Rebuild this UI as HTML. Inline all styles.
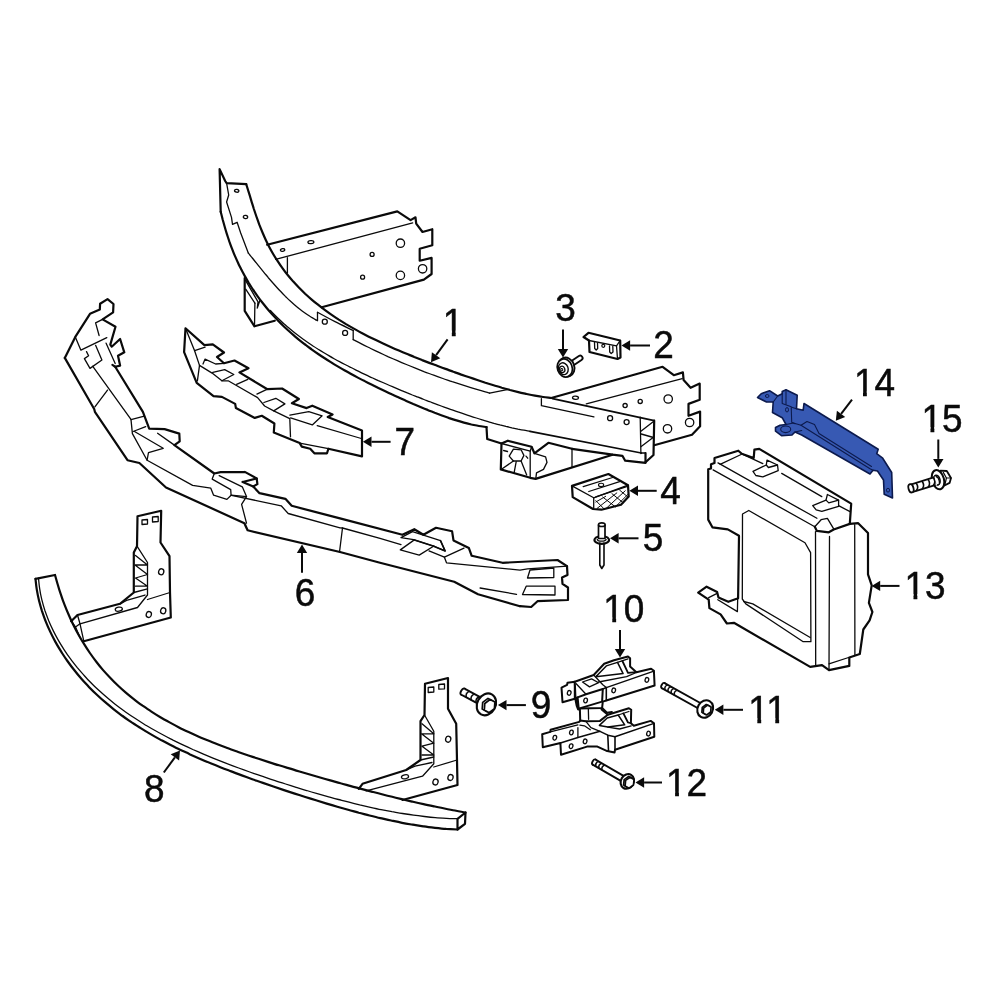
<!DOCTYPE html>
<html lang="en"><head><meta charset="utf-8"><title>Front bumper reinforcement diagram</title>
<style>
html,body{margin:0;padding:0;background:#fff}
body{width:1000px;height:1000px;overflow:hidden}
svg{display:block;will-change:transform}
svg text{font-family:"Liberation Sans",sans-serif;fill:#0a0a0a;stroke:#0a0a0a;stroke-width:0.5px;font-kerning:none;font-variant-ligatures:none}
</style></head><body>
<svg width="1000" height="1000" viewBox="0 0 1000 1000">
<rect width="1000" height="1000" fill="#fff"/>
<path d="M35.5,578.8 C35.7,580.6 36.2,586.0 36.8,589.6 C37.4,593.2 38.1,596.8 39.0,600.4 C39.9,603.9 40.9,607.5 42.0,611.1 C43.2,614.6 44.4,618.1 45.8,621.6 C47.2,625.1 48.7,628.5 50.3,631.9 C51.9,635.3 53.6,638.6 55.4,641.9 C57.2,645.2 59.2,648.5 61.2,651.7 C63.2,654.8 65.2,658.0 67.4,661.0 C69.6,664.1 71.8,667.1 74.2,670.0 C76.5,673.0 78.9,675.9 81.4,678.7 C83.8,681.5 86.4,684.2 88.9,686.9 C91.5,689.6 94.2,692.2 96.9,694.7 C99.6,697.3 102.4,699.8 105.2,702.2 C108.0,704.6 110.9,707.0 113.8,709.3 C116.7,711.6 119.7,713.8 122.6,716.0 C125.6,718.2 128.7,720.3 131.7,722.4 C134.8,724.4 137.9,726.4 141.1,728.4 C144.2,730.4 147.4,732.3 150.6,734.1 C153.8,736.0 157.0,737.8 160.3,739.6 C163.5,741.3 166.8,743.1 170.1,744.7 C173.4,746.4 176.7,748.1 180.0,749.7 C183.4,751.3 186.8,752.8 190.1,754.4 C193.5,755.9 196.9,757.4 200.3,758.9 C203.7,760.4 207.1,761.8 210.6,763.2 C214.0,764.6 217.5,766.0 220.9,767.4 C224.4,768.8 227.9,770.1 231.3,771.4 C234.8,772.8 238.3,774.1 241.8,775.4 C245.3,776.7 248.8,777.9 252.3,779.2 C255.8,780.4 259.3,781.7 262.9,782.9 C266.4,784.1 269.9,785.3 273.4,786.5 C277.0,787.7 280.5,788.9 284.0,790.1 C287.6,791.3 291.1,792.4 294.7,793.6 C298.2,794.7 301.8,795.9 305.3,797.0 C308.9,798.1 312.4,799.2 316.0,800.3 C319.5,801.4 323.1,802.5 326.7,803.6 C330.2,804.6 333.8,805.7 337.3,806.7 C340.9,807.7 344.5,808.8 348.1,809.8 C351.6,810.8 355.2,811.7 358.8,812.7 C362.4,813.6 365.9,814.6 369.5,815.5 C373.1,816.4 376.7,817.3 380.3,818.1 C383.9,818.9 387.5,819.8 391.1,820.5 C394.8,821.3 398.4,822.1 402.0,822.8 C405.6,823.5 409.3,824.1 412.9,824.7 C416.6,825.4 420.3,825.9 423.9,826.4 C427.6,827.0 431.3,827.4 435.0,827.8 C438.7,828.2 442.4,828.6 446.2,828.9 C449.9,829.1 455.6,829.4 457.5,829.5" fill="none" stroke="#0a0a0a" stroke-width="2.20" stroke-linejoin="round" stroke-linecap="round"/>
<path d="M55.0,575.0 C55.5,576.6 56.8,581.5 57.8,584.8 C58.7,588.1 59.8,591.5 61.0,594.8 C62.1,598.2 63.3,601.6 64.6,604.9 C65.9,608.3 67.3,611.6 68.8,615.0 C70.2,618.3 71.7,621.6 73.4,624.9 C75.0,628.1 76.7,631.4 78.4,634.5 C80.2,637.7 82.0,640.9 84.0,643.9 C85.9,647.0 87.9,650.1 89.9,653.0 C92.0,656.0 94.1,658.9 96.3,661.7 C98.5,664.6 100.8,667.4 103.1,670.1 C105.5,672.8 107.9,675.4 110.4,678.0 C112.8,680.6 115.3,683.1 117.9,685.5 C120.5,688.0 123.1,690.3 125.8,692.6 C128.5,694.9 131.3,697.2 134.1,699.3 C136.8,701.5 139.7,703.6 142.6,705.7 C145.5,707.7 148.4,709.7 151.4,711.6 C154.3,713.5 157.3,715.4 160.4,717.2 C163.4,719.0 166.5,720.7 169.6,722.4 C172.7,724.1 175.9,725.8 179.0,727.4 C182.2,729.0 185.4,730.5 188.6,732.0 C191.8,733.5 195.1,735.0 198.3,736.4 C201.6,737.9 204.9,739.2 208.2,740.6 C211.5,742.0 214.8,743.3 218.1,744.6 C221.4,745.9 224.8,747.1 228.1,748.3 C231.5,749.6 234.9,750.8 238.2,752.0 C241.6,753.2 245.0,754.3 248.4,755.5 C251.8,756.6 255.2,757.7 258.6,758.8 C262.0,759.9 265.4,761.0 268.8,762.1 C272.2,763.2 275.6,764.3 279.0,765.3 C282.4,766.4 285.9,767.4 289.3,768.4 C292.7,769.5 296.1,770.5 299.5,771.5 C303.0,772.5 306.4,773.5 309.8,774.5 C313.2,775.5 316.6,776.5 320.1,777.5 C323.5,778.5 326.9,779.4 330.3,780.4 C333.8,781.4 337.2,782.3 340.6,783.3 C344.1,784.2 347.5,785.2 350.9,786.1 C354.4,787.0 357.8,788.0 361.2,788.9 C364.7,789.8 368.1,790.7 371.5,791.6 C375.0,792.5 378.4,793.4 381.9,794.2 C385.3,795.1 388.8,796.0 392.2,796.8 C395.7,797.7 399.2,798.5 402.6,799.3 C406.1,800.2 409.6,801.0 413.0,801.8 C416.5,802.6 420.0,803.3 423.5,804.1 C427.0,804.9 430.5,805.6 434.0,806.3 C437.5,807.1 441.0,807.8 444.5,808.5 C448.0,809.2 451.5,809.9 455.0,810.5 C458.5,811.2 463.7,812.2 465.5,812.5" fill="none" stroke="#0a0a0a" stroke-width="2.20" stroke-linejoin="round" stroke-linecap="round"/>
<path d="M38.5,578.2 C38.7,580.0 39.1,585.4 39.7,588.9 C40.2,592.5 40.9,596.1 41.8,599.6 C42.7,603.2 43.7,606.7 44.8,610.2 C46.0,613.6 47.3,617.1 48.6,620.5 C50.0,623.9 51.6,627.3 53.2,630.6 C54.8,633.9 56.6,637.2 58.4,640.4 C60.2,643.6 62.2,646.7 64.2,649.8 C66.2,652.9 68.3,656.0 70.5,658.9 C72.7,661.9 75.0,664.8 77.3,667.7 C79.7,670.5 82.1,673.3 84.6,676.0 C87.0,678.8 89.6,681.4 92.2,684.0 C94.8,686.6 97.5,689.1 100.2,691.6 C102.9,694.1 105.7,696.5 108.5,698.8 C111.3,701.2 114.2,703.4 117.1,705.7 C120.0,707.9 122.9,710.1 125.9,712.2 C128.9,714.3 131.9,716.3 135.0,718.3 C138.0,720.3 141.1,722.3 144.2,724.2 C147.4,726.1 150.5,728.0 153.7,729.8 C156.8,731.6 160.0,733.3 163.3,735.0 C166.5,736.8 169.7,738.4 173.0,740.1 C176.3,741.7 179.6,743.3 182.9,744.9 C186.2,746.4 189.5,748.0 192.8,749.5 C196.2,751.0 199.5,752.4 202.9,753.9 C206.2,755.3 209.6,756.7 213.0,758.1 C216.4,759.5 219.8,760.8 223.2,762.2 C226.7,763.5 230.1,764.8 233.5,766.1 C237.0,767.4 240.4,768.6 243.9,769.9 C247.3,771.1 250.8,772.4 254.2,773.6 C257.7,774.8 261.2,776.0 264.7,777.1 C268.1,778.3 271.6,779.5 275.1,780.6 C278.6,781.8 282.1,782.9 285.6,784.0 C289.1,785.1 292.6,786.2 296.1,787.3 C299.7,788.4 303.2,789.5 306.7,790.5 C310.2,791.6 313.7,792.6 317.3,793.6 C320.8,794.6 324.3,795.6 327.8,796.6 C331.4,797.6 334.9,798.6 338.5,799.5 C342.0,800.4 345.5,801.4 349.1,802.2 C352.6,803.1 356.2,804.0 359.7,804.9 C363.3,805.7 366.9,806.5 370.4,807.3 C374.0,808.1 377.6,808.9 381.1,809.6 C384.7,810.3 388.3,811.0 391.9,811.7 C395.5,812.3 399.0,813.0 402.6,813.5 C406.3,814.1 409.9,814.7 413.5,815.2 C417.1,815.7 420.7,816.1 424.4,816.5 C428.0,816.9 431.7,817.3 435.3,817.6 C439.0,817.9 442.7,818.1 446.4,818.3 C450.1,818.5 455.6,818.7 457.5,818.7" fill="none" stroke="#0a0a0a" stroke-width="1.30" stroke-linejoin="round" stroke-linecap="round"/>
<polyline points="35.5,578.8 55.0,575.0" fill="none" stroke="#0a0a0a" stroke-width="2.20" stroke-linejoin="round" stroke-linecap="round"/>
<polyline points="465.5,812.5 465.0,823.8 457.5,829.5 457.5,818.8 465.5,812.5" fill="none" stroke="#0a0a0a" stroke-width="2.20" stroke-linejoin="round" stroke-linecap="round"/>
<polyline points="71.2,621.2 77.5,615.0 120.0,603.8 133.8,592.5 133.8,552.5 137.0,546.2 137.5,516.2 161.2,510.8 160.5,542.5 169.5,556.2 170.0,592.5 170.8,617.5 83.8,641.2" fill="none" stroke="#0a0a0a" stroke-width="2.20" stroke-linejoin="round" stroke-linecap="round"/>
<polyline points="137.0,546.2 147.5,562.5 147.5,595.0 137.5,607.5 80.0,623.8 83.8,641.2" fill="none" stroke="#0a0a0a" stroke-width="1.30" stroke-linejoin="round" stroke-linecap="round"/>
<polyline points="77.5,615.0 80.0,623.8" fill="none" stroke="#0a0a0a" stroke-width="1.30" stroke-linejoin="round" stroke-linecap="round"/>
<polyline points="71.2,621.2 75.5,627.0 80.0,623.8" fill="none" stroke="#0a0a0a" stroke-width="1.30" stroke-linejoin="round" stroke-linecap="round"/>
<polyline points="75.5,627.0 80.0,637.5" fill="none" stroke="#0a0a0a" stroke-width="1.30" stroke-linejoin="round" stroke-linecap="round"/>
<polyline points="147.5,599.5 170.0,592.5" fill="none" stroke="#0a0a0a" stroke-width="1.30" stroke-linejoin="round" stroke-linecap="round"/>
<polyline points="133.8,592.5 147.5,588.8" fill="none" stroke="#0a0a0a" stroke-width="1.30" stroke-linejoin="round" stroke-linecap="round"/>
<polyline points="120.0,603.8 127.5,600.0 145.0,595.0" fill="none" stroke="#0a0a0a" stroke-width="1.30" stroke-linejoin="round" stroke-linecap="round"/>
<polyline points="135.5,555.5 147.5,565.0 135.0,565.0 147.5,574.5 135.5,578.0 147.5,586.2 135.5,586.2" fill="none" stroke="#0a0a0a" stroke-width="1.30" stroke-linejoin="round" stroke-linecap="round"/>
<polygon points="142.0,520.0 147.5,519.5 147.5,524.0 142.0,524.5" fill="none" stroke="#0a0a0a" stroke-width="1.30" stroke-linejoin="round" stroke-linecap="round"/>
<polygon points="152.5,517.0 158.2,516.5 158.2,521.5 152.5,522.0" fill="none" stroke="#0a0a0a" stroke-width="1.30" stroke-linejoin="round" stroke-linecap="round"/>
<ellipse cx="161.2" cy="571.8" rx="2.6" ry="3.0" fill="#fff" stroke="#0a0a0a" stroke-width="1.30" transform="rotate(15 161.2 571.8)"/>
<ellipse cx="148.8" cy="614.5" rx="2.6" ry="3.0" fill="#fff" stroke="#0a0a0a" stroke-width="1.30" transform="rotate(15 148.8 614.5)"/>
<ellipse cx="163.2" cy="610.8" rx="2.6" ry="3.0" fill="#fff" stroke="#0a0a0a" stroke-width="1.30" transform="rotate(15 163.2 610.8)"/>
<ellipse cx="118.8" cy="609.2" rx="3.6" ry="2.0" fill="#fff" stroke="#0a0a0a" stroke-width="1.30" transform="rotate(-10 118.8 609.2)"/>
<polyline points="358.8,788.8 362.5,783.8 406.2,770.0 420.5,760.0 420.5,721.2 424.5,715.0 425.0,683.8 448.0,678.0 448.0,708.8 456.2,723.8 457.0,760.0 457.5,785.0 402.5,800.0" fill="none" stroke="#0a0a0a" stroke-width="2.20" stroke-linejoin="round" stroke-linecap="round"/>
<polyline points="424.5,715.0 433.8,731.2 433.8,763.8 422.5,776.2 366.2,790.8" fill="none" stroke="#0a0a0a" stroke-width="1.30" stroke-linejoin="round" stroke-linecap="round"/>
<polyline points="433.8,767.0 457.0,760.0" fill="none" stroke="#0a0a0a" stroke-width="1.30" stroke-linejoin="round" stroke-linecap="round"/>
<polyline points="420.5,760.0 433.8,757.0" fill="none" stroke="#0a0a0a" stroke-width="1.30" stroke-linejoin="round" stroke-linecap="round"/>
<polyline points="406.2,770.0 415.0,766.2 432.0,762.5" fill="none" stroke="#0a0a0a" stroke-width="1.30" stroke-linejoin="round" stroke-linecap="round"/>
<polyline points="422.0,723.8 433.8,733.8 421.5,733.8 433.8,743.2 422.0,746.2 433.8,755.0 422.0,755.0" fill="none" stroke="#0a0a0a" stroke-width="1.30" stroke-linejoin="round" stroke-linecap="round"/>
<polygon points="428.2,687.5 433.8,687.0 433.8,692.0 428.2,692.5" fill="none" stroke="#0a0a0a" stroke-width="1.30" stroke-linejoin="round" stroke-linecap="round"/>
<polygon points="438.8,684.5 444.5,684.0 444.5,688.8 438.8,689.2" fill="none" stroke="#0a0a0a" stroke-width="1.30" stroke-linejoin="round" stroke-linecap="round"/>
<ellipse cx="448.2" cy="739.2" rx="2.6" ry="3.0" fill="#fff" stroke="#0a0a0a" stroke-width="1.30" transform="rotate(15 448.2 739.2)"/>
<ellipse cx="435.5" cy="782.0" rx="2.6" ry="3.0" fill="#fff" stroke="#0a0a0a" stroke-width="1.30" transform="rotate(15 435.5 782.0)"/>
<ellipse cx="450.5" cy="777.5" rx="2.6" ry="3.0" fill="#fff" stroke="#0a0a0a" stroke-width="1.30" transform="rotate(15 450.5 777.5)"/>
<ellipse cx="405.0" cy="776.8" rx="3.6" ry="2.0" fill="#fff" stroke="#0a0a0a" stroke-width="1.30" transform="rotate(-10 405.0 776.8)"/>
<clipPath id="c1"><rect x="437.4" y="297.2" width="31.4" height="33.4"/><rect x="451.79" y="329.7" width="3.97" height="8"/></clipPath>
<text x="442.4" y="335.7" font-size="38.5" clip-path="url(#c1)" transform="translate(453.10 0) scale(0.96 1) translate(-453.10 0)">1</text>
<line x1="447.6" y1="339.4" x2="436.1" y2="355.2" stroke="#0a0a0a" stroke-width="2.00"/>
<polygon points="431.0,362.2 431.9,352.2 440.3,358.3" fill="#0a0a0a"/>
<text x="652.8" y="358.0" font-size="38.5" transform="translate(663.50 0) scale(0.96 1) translate(-663.50 0)">2</text>
<line x1="650.0" y1="345.5" x2="630.1" y2="345.5" stroke="#0a0a0a" stroke-width="2.00"/>
<polygon points="621.5,345.5 630.1,340.3 630.1,350.7" fill="#0a0a0a"/>
<text x="554.8" y="321.0" font-size="38.5" transform="translate(565.50 0) scale(0.96 1) translate(-565.50 0)">3</text>
<line x1="563.0" y1="329.5" x2="563.0" y2="348.9" stroke="#0a0a0a" stroke-width="2.00"/>
<polygon points="563.0,357.5 557.8,348.9 568.2,348.9" fill="#0a0a0a"/>
<text x="659.8" y="503.6" font-size="38.5" transform="translate(670.50 0) scale(0.96 1) translate(-670.50 0)">4</text>
<line x1="656.7" y1="490.8" x2="638.0" y2="490.8" stroke="#0a0a0a" stroke-width="2.00"/>
<polygon points="629.4,490.8 638.0,485.6 638.0,496.0" fill="#0a0a0a"/>
<text x="642.3" y="551.5" font-size="38.5" transform="translate(653.00 0) scale(0.96 1) translate(-653.00 0)">5</text>
<line x1="638.5" y1="538.3" x2="618.6" y2="538.3" stroke="#0a0a0a" stroke-width="2.00"/>
<polygon points="610.0,538.3 618.6,533.1 618.6,543.5" fill="#0a0a0a"/>
<text x="294.3" y="605.9" font-size="38.5" transform="translate(305.00 0) scale(0.96 1) translate(-305.00 0)">6</text>
<line x1="302.0" y1="572.8" x2="302.0" y2="553.0" stroke="#0a0a0a" stroke-width="2.00"/>
<polygon points="302.0,544.4 307.2,553.0 296.8,553.0" fill="#0a0a0a"/>
<text x="394.2" y="454.9" font-size="38.5" transform="translate(404.90 0) scale(0.96 1) translate(-404.90 0)">7</text>
<line x1="390.6" y1="441.8" x2="371.5" y2="441.8" stroke="#0a0a0a" stroke-width="2.00"/>
<polygon points="362.9,441.8 371.5,436.6 371.5,447.0" fill="#0a0a0a"/>
<text x="143.7" y="802.0" font-size="38.5" transform="translate(154.40 0) scale(0.96 1) translate(-154.40 0)">8</text>
<line x1="163.8" y1="772.5" x2="174.9" y2="757.4" stroke="#0a0a0a" stroke-width="2.00"/>
<polygon points="180.0,750.5 179.1,760.5 170.7,754.3" fill="#0a0a0a"/>
<text x="530.3" y="717.8" font-size="38.5" transform="translate(541.00 0) scale(0.96 1) translate(-541.00 0)">9</text>
<line x1="525.9" y1="705.1" x2="506.5" y2="705.1" stroke="#0a0a0a" stroke-width="2.00"/>
<polygon points="497.9,705.1 506.5,699.9 506.5,710.3" fill="#0a0a0a"/>
<clipPath id="c2"><rect x="597.4" y="583.9" width="52.7" height="33.4"/><rect x="611.83" y="616.4" width="3.97" height="8"/><rect x="625.25" y="616.4" width="21.41" height="12"/></clipPath>
<text x="602.4" y="622.4" font-size="38.5" letter-spacing="-0.1" clip-path="url(#c2)" transform="translate(623.80 0) scale(0.96 1) translate(-623.80 0)">10</text>
<line x1="620.0" y1="630.0" x2="620.0" y2="649.0" stroke="#0a0a0a" stroke-width="2.00"/>
<polygon points="620.0,657.6 614.8,649.0 625.2,649.0" fill="#0a0a0a"/>
<clipPath id="c3"><rect x="742.5" y="684.5" width="50.1" height="33.4"/><rect x="756.93" y="717.0" width="3.97" height="8"/><rect x="775.64" y="717.0" width="3.97" height="8"/></clipPath>
<text x="747.5" y="723.0" font-size="38.5" letter-spacing="-2.7" clip-path="url(#c3)" transform="translate(767.60 0) scale(0.96 1) translate(-767.60 0)">11</text>
<line x1="743.0" y1="709.8" x2="723.4" y2="709.8" stroke="#0a0a0a" stroke-width="2.00"/>
<polygon points="714.8,709.8 723.4,704.6 723.4,715.0" fill="#0a0a0a"/>
<clipPath id="c4"><rect x="660.2" y="757.5" width="52.7" height="33.4"/><rect x="674.63" y="790.0" width="3.97" height="8"/><rect x="688.05" y="790.0" width="21.41" height="12"/></clipPath>
<text x="665.2" y="796.0" font-size="38.5" letter-spacing="-0.1" clip-path="url(#c4)" transform="translate(686.60 0) scale(0.96 1) translate(-686.60 0)">12</text>
<line x1="662.0" y1="782.5" x2="644.1" y2="782.5" stroke="#0a0a0a" stroke-width="2.00"/>
<polygon points="635.5,782.5 644.1,777.3 644.1,787.7" fill="#0a0a0a"/>
<clipPath id="c5"><rect x="898.6" y="560.5" width="52.7" height="33.4"/><rect x="913.03" y="593.0" width="3.97" height="8"/><rect x="926.45" y="593.0" width="21.41" height="12"/></clipPath>
<text x="903.6" y="599.0" font-size="38.5" letter-spacing="-0.1" clip-path="url(#c5)" transform="translate(925.00 0) scale(0.96 1) translate(-925.00 0)">13</text>
<line x1="899.5" y1="585.9" x2="880.2" y2="585.9" stroke="#0a0a0a" stroke-width="2.00"/>
<polygon points="871.6,585.9 880.2,580.7 880.2,591.1" fill="#0a0a0a"/>
<clipPath id="c6"><rect x="848.1" y="357.5" width="52.7" height="33.4"/><rect x="862.53" y="390.0" width="3.97" height="8"/><rect x="875.95" y="390.0" width="21.41" height="12"/></clipPath>
<text x="853.1" y="396.0" font-size="38.5" letter-spacing="-0.1" clip-path="url(#c6)" transform="translate(874.50 0) scale(0.96 1) translate(-874.50 0)">14</text>
<line x1="852.0" y1="399.7" x2="841.1" y2="413.9" stroke="#0a0a0a" stroke-width="2.00"/>
<polygon points="835.8,420.7 836.9,410.7 845.2,417.1" fill="#0a0a0a"/>
<clipPath id="c7"><rect x="915.6" y="393.5" width="52.7" height="33.4"/><rect x="930.03" y="426.0" width="3.97" height="8"/><rect x="943.45" y="426.0" width="21.41" height="12"/></clipPath>
<text x="920.6" y="432.0" font-size="38.5" letter-spacing="-0.1" clip-path="url(#c7)" transform="translate(942.00 0) scale(0.96 1) translate(-942.00 0)">15</text>
<line x1="938.3" y1="439.5" x2="938.3" y2="458.9" stroke="#0a0a0a" stroke-width="2.00"/>
<polygon points="938.3,467.5 933.1,458.9 943.5,458.9" fill="#0a0a0a"/>
<polyline points="64.8,357.9 75.3,336.9 90.0,313.8 99.8,309.6 100.1,303.7 107.5,299.1 113.5,304.0 113.1,312.4 102.6,319.4 115.5,326.7 110.3,344.6 111.7,346.7 120.1,339.0 124.3,352.3 118.0,355.8 120.1,365.6 115.2,366.7 142.9,411.9 149.2,428.7 164.6,429.1 179.3,433.6 179.7,441.3 174.4,445.1 214.3,473.5 220.6,472.1 244.4,472.1 244.8,471.9 256.7,478.5 257.4,484.1 253.2,486.5 259.5,493.2 285.4,498.8 291.7,505.8 340.0,518.4 402.4,534.8 414.3,529.2 423.4,534.8 436.0,527.8 452.1,531.3 453.5,540.4 468.9,548.1 471.7,555.8 502.5,562.8 557.5,560.0 567.0,566.2 567.5,575.0 562.0,577.5 562.5,583.8 568.0,587.5 568.0,600.0 537.5,601.2 531.2,607.0 520.0,606.2" fill="none" stroke="#0a0a0a" stroke-width="2.20" stroke-linejoin="round" stroke-linecap="round"/>
<polyline points="64.8,357.9 94.2,409.0 94.9,411.8 127.5,460.2 139.4,463.0 166.0,487.5 244.4,523.2 246.5,528.1 244.8,524.0 247.6,530.3 340.0,552.0 380.0,562.8 454.2,581.7 478.0,594.3 520.0,606.2 520.0,606.2" fill="none" stroke="#0a0a0a" stroke-width="2.20" stroke-linejoin="round" stroke-linecap="round"/>
<polyline points="102.6,319.4 95.6,322.9 99.1,335.5" fill="none" stroke="#0a0a0a" stroke-width="1.30" stroke-linejoin="round" stroke-linecap="round"/>
<polyline points="115.2,366.7 112.4,364.9" fill="none" stroke="#0a0a0a" stroke-width="2.20" stroke-linejoin="round" stroke-linecap="round"/>
<polyline points="75.3,336.9 80.9,350.2 106.8,337.6" fill="none" stroke="#0a0a0a" stroke-width="1.30" stroke-linejoin="round" stroke-linecap="round"/>
<polyline points="95.6,345.3 101.9,360.0 90.0,368.4 84.4,358.6 88.6,355.8 86.5,351.6" fill="none" stroke="#0a0a0a" stroke-width="1.30" stroke-linejoin="round" stroke-linecap="round"/>
<polyline points="106.1,343.2 115.2,363.5" fill="none" stroke="#0a0a0a" stroke-width="1.30" stroke-linejoin="round" stroke-linecap="round"/>
<polyline points="92.8,366.3 130.6,418.8 131.0,419.6 132.4,433.6 147.1,460.2 192.6,485.4 210.8,488.2 213.6,495.2 226.9,499.4 231.1,495.2 230.7,489.6 212.2,479.1 214.3,473.5" fill="none" stroke="#0a0a0a" stroke-width="1.30" stroke-linejoin="round" stroke-linecap="round"/>
<polyline points="94.9,406.9 107.5,390.1" fill="none" stroke="#0a0a0a" stroke-width="1.30" stroke-linejoin="round" stroke-linecap="round"/>
<polyline points="131.0,419.6 144.3,416.1" fill="none" stroke="#0a0a0a" stroke-width="1.30" stroke-linejoin="round" stroke-linecap="round"/>
<polyline points="133.1,431.5 145.7,426.6" fill="none" stroke="#0a0a0a" stroke-width="1.30" stroke-linejoin="round" stroke-linecap="round"/>
<polyline points="134.5,431.5 163.2,448.3 148.5,452.5 147.1,460.2" fill="none" stroke="#0a0a0a" stroke-width="1.30" stroke-linejoin="round" stroke-linecap="round"/>
<polyline points="157.6,433.3 174.4,445.1" fill="none" stroke="#0a0a0a" stroke-width="1.30" stroke-linejoin="round" stroke-linecap="round"/>
<polyline points="219.2,475.6 242.3,486.8 246.5,496.6 241.6,504.3 246.5,523.2" fill="none" stroke="#0a0a0a" stroke-width="1.30" stroke-linejoin="round" stroke-linecap="round"/>
<polyline points="242.7,482.0 256.7,478.5" fill="none" stroke="#0a0a0a" stroke-width="2.20" stroke-linejoin="round" stroke-linecap="round"/>
<polyline points="242.7,482.0 253.2,486.5" fill="none" stroke="#0a0a0a" stroke-width="2.20" stroke-linejoin="round" stroke-linecap="round"/>
<polyline points="231.5,495.3 281.2,505.8 288.2,513.5 340.0,527.9 342.5,528.0 380.0,538.3 401.0,544.6" fill="none" stroke="#0a0a0a" stroke-width="1.30" stroke-linejoin="round" stroke-linecap="round"/>
<polyline points="231.1,495.2 246.5,496.6" fill="none" stroke="#0a0a0a" stroke-width="1.30" stroke-linejoin="round" stroke-linecap="round"/>
<polyline points="342.5,528.0 339.5,552.0" fill="none" stroke="#0a0a0a" stroke-width="1.30" stroke-linejoin="round" stroke-linecap="round"/>
<polygon points="401.0,537.6 412.5,531.7 440.5,540.7 445.1,550.9 433.2,546.0 413.6,539.7" fill="none" stroke="#0a0a0a" stroke-width="1.30" stroke-linejoin="round" stroke-linecap="round"/>
<polyline points="413.6,539.7 433.2,546.0 445.1,550.9 440.5,540.7" fill="none" stroke="#0a0a0a" stroke-width="1.60" stroke-linejoin="round" stroke-linecap="round"/>
<polyline points="413.6,540.4 400.3,549.9 419.2,555.1 433.9,546.0" fill="none" stroke="#0a0a0a" stroke-width="1.30" stroke-linejoin="round" stroke-linecap="round"/>
<polyline points="429.0,550.9 444.4,557.2 446.5,562.8 520.0,570.1 527.5,568.8 567.5,566.2" fill="none" stroke="#0a0a0a" stroke-width="1.30" stroke-linejoin="round" stroke-linecap="round"/>
<polyline points="444.4,557.2 464.0,548.1" fill="none" stroke="#0a0a0a" stroke-width="1.30" stroke-linejoin="round" stroke-linecap="round"/>
<polyline points="480.1,588.0 516.5,594.3" fill="none" stroke="#0a0a0a" stroke-width="1.30" stroke-linejoin="round" stroke-linecap="round"/>
<polygon points="530.0,570.0 553.8,568.0 553.8,577.5 527.5,578.0" fill="none" stroke="#0a0a0a" stroke-width="1.30" stroke-linejoin="round" stroke-linecap="round"/>
<polygon points="526.2,586.2 555.0,586.2 555.0,595.0 522.5,594.5" fill="none" stroke="#0a0a0a" stroke-width="1.30" stroke-linejoin="round" stroke-linecap="round"/>
<polyline points="267.2,244.7 397.3,211.4 410.6,220.1 415.5,217.3 416.2,223.6 422.5,232.0 432.3,229.2 432.3,245.3 419.7,248.8 419.7,260.7 431.6,257.9 431.6,274.0 423.9,279.6 321.7,307.3" fill="none" stroke="#0a0a0a" stroke-width="2.20" stroke-linejoin="round" stroke-linecap="round"/>
<polyline points="275.6,259.4 412.7,222.9" fill="none" stroke="#0a0a0a" stroke-width="1.30" stroke-linejoin="round" stroke-linecap="round"/>
<polyline points="287.4,257.7 287.4,273.1" fill="none" stroke="#0a0a0a" stroke-width="1.30" stroke-linejoin="round" stroke-linecap="round"/>
<ellipse cx="282.6" cy="250.0" rx="2.2" ry="1.3" fill="#fff" stroke="#0a0a0a" stroke-width="1.30" transform="rotate(-12 282.6 250.0)"/>
<ellipse cx="310.9" cy="242.1" rx="3.0" ry="1.5" fill="#fff" stroke="#0a0a0a" stroke-width="1.30" transform="rotate(-5 310.9 242.1)"/>
<ellipse cx="400.4" cy="243.2" rx="4.2" ry="4.2" fill="#fff" stroke="#0a0a0a" stroke-width="1.30" transform="rotate(0 400.4 243.2)"/>
<ellipse cx="400.4" cy="275.4" rx="4.2" ry="4.2" fill="#fff" stroke="#0a0a0a" stroke-width="1.30" transform="rotate(0 400.4 275.4)"/>
<ellipse cx="422.6" cy="268.8" rx="4.2" ry="4.2" fill="#fff" stroke="#0a0a0a" stroke-width="1.30" transform="rotate(0 422.6 268.8)"/>
<ellipse cx="372.1" cy="254.4" rx="2.0" ry="2.0" fill="#fff" stroke="#0a0a0a" stroke-width="1.30" transform="rotate(0 372.1 254.4)"/>
<ellipse cx="362.6" cy="277.2" rx="2.0" ry="2.0" fill="#fff" stroke="#0a0a0a" stroke-width="1.30" transform="rotate(0 362.6 277.2)"/>
<polyline points="244.7,278.0 244.7,310.9 254.5,326.3 274.8,320.7" fill="none" stroke="#0a0a0a" stroke-width="2.20" stroke-linejoin="round" stroke-linecap="round"/>
<polyline points="254.5,326.3 254.9,303.2" fill="none" stroke="#0a0a0a" stroke-width="1.30" stroke-linejoin="round" stroke-linecap="round"/>
<polyline points="245.4,280.1 258.0,301.8 257.3,308.1 260.1,299.7" fill="none" stroke="#0a0a0a" stroke-width="1.30" stroke-linejoin="round" stroke-linecap="round"/>
<polyline points="245.7,289.2 254.9,303.2" fill="none" stroke="#0a0a0a" stroke-width="1.30" stroke-linejoin="round" stroke-linecap="round"/>
<polyline points="220.7,211.8 219.6,169.1 225.2,181.0 226.6,183.1 246.2,184.1" fill="none" stroke="#0a0a0a" stroke-width="2.20" stroke-linejoin="round" stroke-linecap="round"/>
<path d="M246.2,184.1 C246.6,185.4 247.9,189.5 248.7,192.2 C249.6,194.9 250.4,197.6 251.2,200.4 C252.0,203.1 252.9,205.8 253.7,208.5 C254.6,211.1 255.5,213.8 256.4,216.5 C257.3,219.1 258.3,221.8 259.2,224.4 C260.2,227.0 261.3,229.6 262.4,232.2 C263.5,234.8 264.6,237.4 265.8,239.9 C267.0,242.4 268.2,244.9 269.5,247.4 C270.8,249.8 272.2,252.3 273.6,254.7 C275.0,257.1 276.5,259.4 278.0,261.7 C279.5,264.1 281.1,266.4 282.8,268.6 C284.4,270.9 286.1,273.1 287.9,275.2 C289.7,277.4 291.5,279.5 293.3,281.6 C295.2,283.7 297.1,285.8 299.1,287.8 C301.1,289.8 303.1,291.8 305.1,293.7 C307.2,295.6 309.3,297.5 311.4,299.3 C313.6,301.2 315.8,303.0 318.0,304.7 C320.2,306.5 322.4,308.2 324.7,309.9 C327.0,311.6 329.3,313.3 331.7,314.9 C334.0,316.5 336.4,318.0 338.8,319.6 C341.2,321.1 343.6,322.6 346.0,324.1 C348.4,325.5 350.9,327.0 353.4,328.4 C355.8,329.8 358.3,331.1 360.8,332.5 C363.3,333.8 365.8,335.1 368.3,336.4 C370.9,337.7 373.4,338.9 375.9,340.1 C378.5,341.4 381.0,342.6 383.6,343.7 C386.1,344.9 388.7,346.1 391.2,347.2 C393.8,348.4 396.3,349.5 398.9,350.6 C401.5,351.7 404.0,352.7 406.6,353.8 C409.2,354.9 411.8,355.9 414.3,357.0 C416.9,358.0 419.5,359.0 422.1,360.1 C424.7,361.1 427.3,362.1 429.9,363.1 C432.5,364.1 435.1,365.0 437.7,366.0 C440.3,367.0 442.9,368.0 445.5,368.9 C448.1,369.9 450.8,370.8 453.4,371.8 C456.0,372.7 458.7,373.6 461.3,374.6 C464.0,375.5 466.6,376.4 469.3,377.3 C472.0,378.2 474.6,379.1 477.3,380.0 C480.0,380.9 482.7,381.8 485.4,382.7 C488.1,383.5 490.9,384.4 493.6,385.2 C496.3,386.0 499.0,386.9 501.8,387.7 C504.5,388.4 507.3,389.2 510.0,390.0 C512.8,390.7 515.6,391.4 518.3,392.1 C521.1,392.8 523.9,393.4 526.6,394.0 C529.4,394.6 532.2,395.2 534.9,395.7 C537.6,396.2 540.4,396.7 543.1,397.0 C545.8,397.4 549.8,397.8 551.2,398.0" fill="none" stroke="#0a0a0a" stroke-width="2.20" stroke-linejoin="round" stroke-linecap="round"/>
<path d="M220.7,211.8 C221.0,213.0 222.0,216.8 222.6,219.3 C223.3,221.8 224.0,224.3 224.7,226.7 C225.4,229.2 226.1,231.6 226.9,234.1 C227.7,236.5 228.5,239.0 229.3,241.4 C230.2,243.8 231.0,246.2 232.0,248.6 C232.9,251.0 233.8,253.3 234.8,255.7 C235.8,258.0 236.9,260.4 238.0,262.7 C239.0,265.0 240.2,267.3 241.3,269.6 C242.5,271.9 243.7,274.1 245.0,276.4 C246.2,278.6 247.5,280.8 248.8,283.0 C250.2,285.2 251.5,287.4 252.9,289.5 C254.4,291.6 255.8,293.8 257.3,295.8 C258.8,297.9 260.3,300.0 261.9,302.0 C263.5,304.0 265.1,306.0 266.7,308.0 C268.3,310.0 270.0,311.9 271.7,313.8 C273.4,315.8 275.2,317.6 277.0,319.5 C278.7,321.4 280.6,323.2 282.4,325.0 C284.2,326.8 286.1,328.5 288.0,330.3 C289.9,332.0 291.8,333.7 293.8,335.4 C295.7,337.0 297.7,338.7 299.7,340.3 C301.7,341.9 303.7,343.5 305.8,345.0 C307.8,346.6 309.9,348.1 311.9,349.6 C314.0,351.1 316.1,352.6 318.2,354.0 C320.4,355.5 322.5,356.9 324.7,358.3 C326.8,359.7 329.0,361.1 331.2,362.4 C333.3,363.8 335.5,365.1 337.7,366.4 C339.9,367.7 342.1,369.0 344.4,370.2 C346.6,371.5 348.8,372.7 351.1,374.0 C353.3,375.2 355.6,376.4 357.8,377.6 C360.1,378.8 362.4,380.0 364.7,381.1 C366.9,382.3 369.2,383.5 371.5,384.6 C373.8,385.7 376.1,386.9 378.4,388.0 C380.7,389.1 383.0,390.2 385.3,391.3 C387.6,392.4 390.0,393.5 392.3,394.6 C394.6,395.6 396.9,396.7 399.3,397.8 C401.6,398.8 403.9,399.9 406.3,400.9 C408.6,401.9 411.0,403.0 413.3,404.0 C415.7,405.0 418.1,406.0 420.4,407.0 C422.8,408.0 425.2,409.0 427.6,409.9 C429.9,410.9 432.3,411.8 434.7,412.8 C437.1,413.7 439.5,414.6 441.9,415.5 C444.3,416.4 446.8,417.2 449.2,418.1 C451.6,418.9 454.1,419.7 456.5,420.4 C459.0,421.2 461.4,421.9 463.9,422.6 C466.4,423.3 468.9,423.9 471.4,424.5 C473.9,425.0 476.4,425.6 478.9,426.0 C481.4,426.4 485.2,426.9 486.5,427.1" fill="none" stroke="#0a0a0a" stroke-width="2.20" stroke-linejoin="round" stroke-linecap="round"/>
<polyline points="486.5,427.1 487.2,439.0 501.5,443.5" fill="none" stroke="#0a0a0a" stroke-width="2.20" stroke-linejoin="round" stroke-linecap="round"/>
<path d="M270.4,310.4 C271.1,311.2 273.2,313.5 274.7,315.0 C276.1,316.4 277.6,317.9 279.1,319.3 C280.6,320.8 282.1,322.2 283.6,323.6 C285.2,324.9 286.7,326.3 288.3,327.6 C289.9,329.0 291.5,330.3 293.1,331.5 C294.7,332.8 296.3,334.1 297.9,335.3 C299.6,336.6 301.2,337.8 302.9,339.0 C304.6,340.2 306.2,341.4 307.9,342.5 C309.6,343.7 311.3,344.8 313.0,346.0 C314.8,347.1 316.5,348.2 318.2,349.3 C320.0,350.4 321.7,351.4 323.5,352.5 C325.2,353.6 327.0,354.6 328.8,355.6 C330.6,356.7 332.3,357.7 334.1,358.7 C335.9,359.7 337.7,360.7 339.5,361.6 C341.3,362.6 343.2,363.6 345.0,364.5 C346.8,365.5 348.6,366.4 350.5,367.3 C352.3,368.3 354.1,369.2 356.0,370.1 C357.8,371.0 359.7,371.9 361.5,372.8 C363.4,373.7 365.2,374.5 367.1,375.4 C369.0,376.3 370.8,377.2 372.7,378.0 C374.6,378.9 376.4,379.7 378.3,380.6 C380.2,381.4 382.1,382.2 384.0,383.0 C385.8,383.9 387.7,384.7 389.6,385.5 C391.5,386.3 393.4,387.1 395.3,387.9 C397.2,388.7 399.1,389.5 401.0,390.3 C402.9,391.1 404.8,391.9 406.7,392.7 C408.6,393.4 410.5,394.2 412.4,395.0 C414.3,395.7 416.3,396.5 418.2,397.2 C420.1,398.0 422.0,398.8 423.9,399.5 C425.8,400.2 427.8,401.0 429.7,401.7 C431.6,402.4 433.5,403.2 435.5,403.9 C437.4,404.6 439.3,405.3 441.2,406.0 C443.2,406.7 445.1,407.4 447.1,408.1 C449.0,408.8 450.9,409.5 452.9,410.2 C454.8,410.9 456.7,411.6 458.7,412.2 C460.6,412.9 462.6,413.6 464.5,414.2 C466.5,414.9 468.4,415.5 470.4,416.1 C472.4,416.8 474.3,417.4 476.3,418.0 C478.2,418.6 480.2,419.2 482.2,419.8 C484.1,420.4 486.1,421.0 488.1,421.6 C490.0,422.2 492.0,422.7 494.0,423.3 C496.0,423.8 498.0,424.3 499.9,424.9 C501.9,425.4 503.9,425.9 505.9,426.4 C507.9,426.8 509.9,427.3 511.9,427.8 C513.9,428.2 515.9,428.6 517.9,429.1 C519.9,429.5 521.9,429.9 523.9,430.2 C526.0,430.6 529.0,431.1 530.0,431.3" fill="none" stroke="#0a0a0a" stroke-width="1.30" stroke-linejoin="round" stroke-linecap="round"/>
<polyline points="530.0,431.3 641.3,453.0" fill="none" stroke="#0a0a0a" stroke-width="1.70" stroke-linejoin="round" stroke-linecap="round"/>
<polyline points="226.6,183.1 228.7,195.0 226.6,202.0 231.5,217.4 232.5,224.4 237.1,222.3 240.6,232.8 248.3,253.1" fill="none" stroke="#0a0a0a" stroke-width="1.30" stroke-linejoin="round" stroke-linecap="round"/>
<path d="M248.3,253.1 C249.0,253.9 251.0,256.4 252.3,258.0 C253.6,259.6 254.9,261.3 256.3,262.9 C257.6,264.6 258.9,266.2 260.3,267.9 C261.6,269.5 262.9,271.1 264.3,272.8 C265.6,274.4 267.0,276.0 268.3,277.7 C269.7,279.3 271.1,280.9 272.5,282.5 C273.9,284.1 275.3,285.7 276.7,287.2 C278.1,288.8 279.5,290.3 281.0,291.8 C282.4,293.4 283.9,294.9 285.4,296.4 C286.9,297.8 288.4,299.3 290.0,300.7 C291.5,302.1 293.1,303.5 294.7,304.9 C296.3,306.3 297.9,307.6 299.6,308.9 C301.2,310.2 302.9,311.5 304.6,312.7 C306.3,313.9 308.1,315.1 309.9,316.3 C311.7,317.4 314.5,319.0 315.4,319.6" fill="none" stroke="#0a0a0a" stroke-width="1.30" stroke-linejoin="round" stroke-linecap="round"/>
<polyline points="315.4,319.6 317.5,320.7 317.5,312.3" fill="none" stroke="#0a0a0a" stroke-width="1.30" stroke-linejoin="round" stroke-linecap="round"/>
<path d="M317.5,312.3 C320.4,313.9 329.0,318.6 335.0,321.7 C340.9,324.7 350.2,329.0 353.2,330.5" fill="none" stroke="#0a0a0a" stroke-width="1.30" stroke-linejoin="round" stroke-linecap="round"/>
<polyline points="353.2,330.5 353.2,339.6" fill="none" stroke="#0a0a0a" stroke-width="1.30" stroke-linejoin="round" stroke-linecap="round"/>
<path d="M353.2,339.6 C354.6,340.3 359.0,342.6 361.9,344.1 C364.8,345.6 367.7,347.0 370.7,348.5 C373.6,349.9 376.6,351.3 379.5,352.7 C382.5,354.1 385.4,355.4 388.4,356.8 C391.4,358.1 394.4,359.4 397.4,360.7 C400.3,362.0 403.4,363.3 406.4,364.5 C409.4,365.8 412.4,367.0 415.4,368.2 C418.5,369.4 421.5,370.6 424.5,371.8 C427.6,372.9 430.6,374.1 433.7,375.2 C436.8,376.3 439.8,377.4 442.9,378.5 C446.0,379.6 449.1,380.6 452.2,381.7 C455.3,382.7 458.4,383.7 461.5,384.7 C464.6,385.7 467.7,386.7 470.8,387.6 C473.9,388.6 477.0,389.5 480.2,390.4 C483.3,391.3 488.0,392.7 489.6,393.1" fill="none" stroke="#0a0a0a" stroke-width="1.30" stroke-linejoin="round" stroke-linecap="round"/>
<polyline points="489.6,393.1 507.1,389.6" fill="none" stroke="#0a0a0a" stroke-width="1.30" stroke-linejoin="round" stroke-linecap="round"/>
<ellipse cx="236.7" cy="190.8" rx="2.2" ry="1.4" fill="#fff" stroke="#0a0a0a" stroke-width="1.30" transform="rotate(10 236.7 190.8)"/>
<ellipse cx="245.5" cy="217.0" rx="2.2" ry="1.6" fill="#fff" stroke="#0a0a0a" stroke-width="1.30" transform="rotate(10 245.5 217.0)"/>
<ellipse cx="324.8" cy="321.7" rx="2.5" ry="2.5" fill="#fff" stroke="#0a0a0a" stroke-width="1.30" transform="rotate(0 324.8 321.7)"/>
<ellipse cx="345.1" cy="332.9" rx="2.5" ry="2.5" fill="#fff" stroke="#0a0a0a" stroke-width="1.30" transform="rotate(0 345.1 332.9)"/>
<polyline points="551.2,398.0 662.6,366.8 673.8,375.2 682.9,372.4 683.6,380.1 690.6,387.8 699.7,383.6 699.7,399.7 688.5,403.9 688.5,415.8 700.1,411.6 700.1,426.3 692.0,434.7 654.2,445.2" fill="none" stroke="#0a0a0a" stroke-width="2.20" stroke-linejoin="round" stroke-linecap="round"/>
<polyline points="586.3,403.9 682.2,378.7" fill="none" stroke="#0a0a0a" stroke-width="1.30" stroke-linejoin="round" stroke-linecap="round"/>
<polyline points="552.6,398.7 654.2,420.7" fill="none" stroke="#0a0a0a" stroke-width="1.70" stroke-linejoin="round" stroke-linecap="round"/>
<polyline points="541.4,398.7 541.4,405.7 593.9,416.9" fill="none" stroke="#0a0a0a" stroke-width="1.30" stroke-linejoin="round" stroke-linecap="round"/>
<ellipse cx="575.5" cy="397.7" rx="3.0" ry="1.6" fill="#fff" stroke="#0a0a0a" stroke-width="1.30" transform="rotate(5 575.5 397.7)"/>
<ellipse cx="625.1" cy="405.6" rx="2.1" ry="2.1" fill="#fff" stroke="#0a0a0a" stroke-width="1.30" transform="rotate(0 625.1 405.6)"/>
<ellipse cx="640.2" cy="401.4" rx="2.1" ry="2.1" fill="#fff" stroke="#0a0a0a" stroke-width="1.30" transform="rotate(0 640.2 401.4)"/>
<ellipse cx="610.1" cy="418.2" rx="2.5" ry="2.5" fill="#fff" stroke="#0a0a0a" stroke-width="1.30" transform="rotate(0 610.1 418.2)"/>
<ellipse cx="626.6" cy="422.1" rx="2.5" ry="2.5" fill="#fff" stroke="#0a0a0a" stroke-width="1.30" transform="rotate(0 626.6 422.1)"/>
<ellipse cx="668.2" cy="399.0" rx="4.2" ry="4.2" fill="#fff" stroke="#0a0a0a" stroke-width="1.30" transform="rotate(0 668.2 399.0)"/>
<ellipse cx="667.5" cy="428.8" rx="4.2" ry="4.2" fill="#fff" stroke="#0a0a0a" stroke-width="1.30" transform="rotate(0 667.5 428.8)"/>
<ellipse cx="689.6" cy="422.5" rx="4.2" ry="4.2" fill="#fff" stroke="#0a0a0a" stroke-width="1.30" transform="rotate(0 689.6 422.5)"/>
<polyline points="640.2,417.2 640.9,453.6" fill="none" stroke="#0a0a0a" stroke-width="1.30" stroke-linejoin="round" stroke-linecap="round"/>
<polyline points="654.2,420.7 653.5,455.0 645.8,462.0" fill="none" stroke="#0a0a0a" stroke-width="2.20" stroke-linejoin="round" stroke-linecap="round"/>
<polyline points="640.9,431.2 653.5,421.4" fill="none" stroke="#0a0a0a" stroke-width="1.30" stroke-linejoin="round" stroke-linecap="round"/>
<polyline points="641.2,434.0 653.5,437.5" fill="none" stroke="#0a0a0a" stroke-width="1.30" stroke-linejoin="round" stroke-linecap="round"/>
<polyline points="641.2,446.6 653.1,437.5" fill="none" stroke="#0a0a0a" stroke-width="1.30" stroke-linejoin="round" stroke-linecap="round"/>
<polyline points="572.0,448.8 612.6,454.7 622.4,455.8 625.2,460.7 645.5,462.8 645.5,453.0" fill="none" stroke="#0a0a0a" stroke-width="2.20" stroke-linejoin="round" stroke-linecap="round"/>
<polyline points="641.3,453.0 645.5,453.0" fill="none" stroke="#0a0a0a" stroke-width="1.30" stroke-linejoin="round" stroke-linecap="round"/>
<polyline points="612.6,454.7 535.6,478.9 530.2,477.8 500.8,469.4 501.5,443.5 507.8,440.7 531.6,446.7 534.4,453.3 548.4,442.8 572.0,448.8" fill="none" stroke="#0a0a0a" stroke-width="2.20" stroke-linejoin="round" stroke-linecap="round"/>
<polyline points="572.0,448.8 572.0,467.0" fill="none" stroke="#0a0a0a" stroke-width="1.30" stroke-linejoin="round" stroke-linecap="round"/>
<polyline points="501.5,443.5 530.2,451.2 530.2,477.8" fill="none" stroke="#0a0a0a" stroke-width="1.30" stroke-linejoin="round" stroke-linecap="round"/>
<polyline points="530.2,451.2 531.6,446.7" fill="none" stroke="#0a0a0a" stroke-width="1.30" stroke-linejoin="round" stroke-linecap="round"/>
<polyline points="534.4,453.3 545.6,456.8 547.0,462.4 543.5,469.4 536.5,472.9 535.8,478.5" fill="none" stroke="#0a0a0a" stroke-width="1.30" stroke-linejoin="round" stroke-linecap="round"/>
<polygon points="513.4,449.1 521.1,449.8 523.9,455.4 521.1,461.0 513.4,461.0 509.2,456.1" fill="none" stroke="#0a0a0a" stroke-width="1.30" stroke-linejoin="round" stroke-linecap="round"/>
<polyline points="513.4,461.0 502.2,468.7" fill="none" stroke="#0a0a0a" stroke-width="1.30" stroke-linejoin="round" stroke-linecap="round"/>
<polyline points="516.2,461.7 514.1,472.9" fill="none" stroke="#0a0a0a" stroke-width="1.30" stroke-linejoin="round" stroke-linecap="round"/>
<polyline points="521.1,461.0 526.7,475.0" fill="none" stroke="#0a0a0a" stroke-width="1.30" stroke-linejoin="round" stroke-linecap="round"/>
<polyline points="503.6,450.5 507.5,451.5" fill="none" stroke="#0a0a0a" stroke-width="1.30" stroke-linejoin="round" stroke-linecap="round"/>
<polyline points="526.0,456.1 527.7,458.2" fill="none" stroke="#0a0a0a" stroke-width="1.30" stroke-linejoin="round" stroke-linecap="round"/>
<polygon points="185.5,328.3 204.4,345.1 212.8,344.4 224.0,352.5 217.0,357.0 224.0,363.3 234.5,360.5 248.5,368.2 239.4,372.4 267.4,389.2 282.1,388.5 298.9,399.0 291.9,403.2 306.6,408.1 312.3,405.7 332.6,414.4 327.7,416.9 362.0,430.5 362.0,456.4 328.4,448.7 327.0,453.3 314.4,453.3 310.2,448.7 301.8,446.6 299.7,443.1 273.8,432.6 274.4,423.5 261.8,415.8 254.8,417.9 235.9,408.1 235.2,403.9 221.9,396.9 213.5,396.2 196.7,382.9 184.1,352.1" fill="none" stroke="#0a0a0a" stroke-width="2.20" stroke-linejoin="round" stroke-linecap="round"/>
<polyline points="185.5,328.3 194.6,350.7 205.1,347.2" fill="none" stroke="#0a0a0a" stroke-width="1.30" stroke-linejoin="round" stroke-linecap="round"/>
<polyline points="194.6,350.7 199.5,365.4 197.4,380.8" fill="none" stroke="#0a0a0a" stroke-width="1.30" stroke-linejoin="round" stroke-linecap="round"/>
<polyline points="199.5,365.4 212.1,373.1 221.9,380.8 233.8,374.5 224.7,369.6 212.8,372.4" fill="none" stroke="#0a0a0a" stroke-width="1.30" stroke-linejoin="round" stroke-linecap="round"/>
<polyline points="203.0,364.0 205.1,359.1 215.6,364.0 224.0,363.3" fill="none" stroke="#0a0a0a" stroke-width="1.30" stroke-linejoin="round" stroke-linecap="round"/>
<polyline points="221.9,380.8 228.2,380.8 257.6,397.6 264.6,406.0 273.7,410.9 284.9,403.9 275.8,398.3 263.9,402.5" fill="none" stroke="#0a0a0a" stroke-width="1.30" stroke-linejoin="round" stroke-linecap="round"/>
<polyline points="236.6,384.3 247.8,379.4" fill="none" stroke="#0a0a0a" stroke-width="1.30" stroke-linejoin="round" stroke-linecap="round"/>
<polyline points="256.9,394.1 267.4,389.2" fill="none" stroke="#0a0a0a" stroke-width="1.30" stroke-linejoin="round" stroke-linecap="round"/>
<polyline points="273.7,410.9 289.8,418.6 290.5,436.8" fill="none" stroke="#0a0a0a" stroke-width="1.30" stroke-linejoin="round" stroke-linecap="round"/>
<polyline points="289.9,415.1 308.8,411.6 322.1,415.8 312.3,424.9 290.6,417.9" fill="none" stroke="#0a0a0a" stroke-width="1.30" stroke-linejoin="round" stroke-linecap="round"/>
<polyline points="317.2,425.6 361.3,438.5" fill="none" stroke="#0a0a0a" stroke-width="1.30" stroke-linejoin="round" stroke-linecap="round"/>
<polyline points="299.7,443.1 328.4,448.7" fill="none" stroke="#0a0a0a" stroke-width="1.30" stroke-linejoin="round" stroke-linecap="round"/>
<polygon points="484.8,707.4 461.3,694.7 464.5,688.7 488.0,701.4" fill="#fff" stroke="#0a0a0a" stroke-width="1.9" stroke-linejoin="round"/>
<ellipse cx="462.9" cy="691.7" rx="1.9" ry="3.5" fill="#fff" stroke="#0a0a0a" stroke-width="1.90" transform="rotate(28.3879 462.9 691.7)"/>
<polygon points="461.7,693.9 464.4,695.3 466.7,691.0 464.1,689.5" fill="#fff"/>
<path d="M466.3,697.4 Q465.2,692.9 469.5,691.4" fill="none" stroke="#0a0a0a" stroke-width="1.5"/>
<path d="M471.2,700.1 Q470.2,695.6 474.5,694.1" fill="none" stroke="#0a0a0a" stroke-width="1.5"/>
<path d="M476.2,702.8 Q475.1,698.3 479.5,696.8" fill="none" stroke="#0a0a0a" stroke-width="1.5"/>
<path d="M481.2,705.5 Q480.1,701.0 484.5,699.5" fill="none" stroke="#0a0a0a" stroke-width="1.5"/>
<ellipse cx="486.4" cy="704.4" rx="9.2" ry="11.4" fill="#fff" stroke="#0a0a0a" stroke-width="2.10" transform="rotate(28.3879 486.4 704.4)"/>
<polygon points="492.3,707.6 487.0,711.6 482.2,709.0 482.7,702.4 488.0,698.4 492.8,701.0" fill="#fff" stroke="#0a0a0a" stroke-width="1.70" stroke-linejoin="round" stroke-linecap="round"/>
<polygon points="494.4,708.7 489.1,712.7 484.3,710.1 484.8,703.5 490.0,699.5 494.9,702.1" fill="#fff" stroke="#0a0a0a" stroke-width="1.70" stroke-linejoin="round" stroke-linecap="round"/>
<polygon points="703.8,711.5 661.8,688.1 664.6,683.1 706.6,706.5" fill="#fff" stroke="#0a0a0a" stroke-width="1.9" stroke-linejoin="round"/>
<ellipse cx="663.2" cy="685.6" rx="1.6" ry="2.9" fill="#fff" stroke="#0a0a0a" stroke-width="1.90" transform="rotate(29.1241 663.2 685.6)"/>
<polygon points="662.3,687.2 664.9,688.7 666.7,685.4 664.1,684.0" fill="#fff"/>
<path d="M665.0,689.8 Q664.1,686.1 667.7,684.9" fill="none" stroke="#0a0a0a" stroke-width="1.5"/>
<path d="M668.1,691.6 Q667.3,687.9 670.9,686.6" fill="none" stroke="#0a0a0a" stroke-width="1.5"/>
<path d="M671.3,693.4 Q670.4,689.6 674.0,688.4" fill="none" stroke="#0a0a0a" stroke-width="1.5"/>
<path d="M674.4,695.1 Q673.6,691.4 677.2,690.1" fill="none" stroke="#0a0a0a" stroke-width="1.5"/>
<ellipse cx="705.2" cy="709.0" rx="7.6" ry="9.0" fill="#fff" stroke="#0a0a0a" stroke-width="2.10" transform="rotate(29.1241 705.2 709.0)"/>
<polygon points="709.4,711.3 705.5,714.3 701.9,712.3 702.3,707.4 706.3,704.5 709.8,706.4" fill="#fff" stroke="#0a0a0a" stroke-width="1.70" stroke-linejoin="round" stroke-linecap="round"/>
<polygon points="710.7,712.0 706.7,715.0 703.2,713.0 703.6,708.1 707.5,705.1 711.1,707.1" fill="#fff" stroke="#0a0a0a" stroke-width="1.70" stroke-linejoin="round" stroke-linecap="round"/>
<polygon points="625.9,783.9 592.7,764.6 595.5,759.6 628.7,778.9" fill="#fff" stroke="#0a0a0a" stroke-width="1.9" stroke-linejoin="round"/>
<ellipse cx="594.1" cy="762.1" rx="1.6" ry="2.9" fill="#fff" stroke="#0a0a0a" stroke-width="1.90" transform="rotate(30.1705 594.1 762.1)"/>
<polygon points="593.2,763.7 595.8,765.2 597.6,762.0 595.0,760.5" fill="#fff"/>
<path d="M595.8,766.4 Q595.0,762.6 598.6,761.4" fill="none" stroke="#0a0a0a" stroke-width="1.5"/>
<path d="M598.9,768.2 Q598.1,764.4 601.7,763.2" fill="none" stroke="#0a0a0a" stroke-width="1.5"/>
<path d="M602.0,770.0 Q601.2,766.2 604.8,765.0" fill="none" stroke="#0a0a0a" stroke-width="1.5"/>
<ellipse cx="627.3" cy="781.4" rx="6.4" ry="7.6" fill="#fff" stroke="#0a0a0a" stroke-width="2.10" transform="rotate(30.1705 627.3 781.4)"/>
<polygon points="632.0,784.1 627.5,787.3 623.6,785.1 624.2,779.6 628.7,776.4 632.6,778.7" fill="#fff" stroke="#0a0a0a" stroke-width="1.70" stroke-linejoin="round" stroke-linecap="round"/>
<polygon points="633.5,785.0 629.0,788.2 625.1,785.9 625.6,780.4 630.1,777.2 634.0,779.5" fill="#fff" stroke="#0a0a0a" stroke-width="1.70" stroke-linejoin="round" stroke-linecap="round"/>
<polygon points="940.5,470.6 946.8,471.0 951.0,478.0 949.6,482.9 944.0,485.7 940.5,485.0" fill="#fff" stroke="#0a0a0a" stroke-width="1.80" stroke-linejoin="round" stroke-linecap="round"/>
<polyline points="943.3,472.4 946.4,478.0 945.0,484.3" fill="none" stroke="#0a0a0a" stroke-width="1.20" stroke-linejoin="round" stroke-linecap="round"/>
<polyline points="946.4,478.0 951.0,478.0" fill="none" stroke="#0a0a0a" stroke-width="1.20" stroke-linejoin="round" stroke-linecap="round"/>
<ellipse cx="938.0" cy="479.7" rx="6.0" ry="9.8" fill="#fff" stroke="#0a0a0a" stroke-width="2.00" transform="rotate(-15 938.0 479.7)"/>
<ellipse cx="937.0" cy="480.0" rx="3.0" ry="4.9" fill="#fff" stroke="#0a0a0a" stroke-width="1.50" transform="rotate(-15 937.0 480.0)"/>
<polygon points="935.2,476.9 911.4,484.3 911.4,492.3 935.9,484.8" fill="#fff" stroke="#0a0a0a" stroke-width="1.80" stroke-linejoin="round" stroke-linecap="round"/>
<ellipse cx="937.0" cy="480.8" rx="2.2" ry="4.2" fill="#fff" stroke="#0a0a0a" stroke-width="1.40" transform="rotate(-15 937.0 480.8)"/>
<polyline points="935.2,476.9 936.3,484.8" fill="none" stroke="#fff" stroke-width="1.30" stroke-linejoin="round" stroke-linecap="round"/>
<ellipse cx="911.0" cy="488.3" rx="2.5" ry="4.2" fill="#fff" stroke="#0a0a0a" stroke-width="1.80" transform="rotate(-15 911.0 488.3)"/>
<path d="M916.0,482.9 Q919.4,487.2 916.1,490.9" fill="none" stroke="#0a0a0a" stroke-width="1.6"/>
<path d="M921.9,481.0 Q925.3,485.4 922.1,489.1" fill="none" stroke="#0a0a0a" stroke-width="1.6"/>
<path d="M927.9,479.2 Q931.2,483.5 928.0,487.3" fill="none" stroke="#0a0a0a" stroke-width="1.6"/>
<path d="M933.1,477.6 Q936.5,481.9 933.3,485.6" fill="none" stroke="#0a0a0a" stroke-width="1.6"/>
<line x1="570.5" y1="364.5" x2="580.2" y2="358.0" stroke="#0a0a0a" stroke-width="6.6" stroke-linecap="round"/>
<line x1="570.5" y1="364.5" x2="580.2" y2="358.0" stroke="#fff" stroke-width="2.9" stroke-linecap="round"/>
<ellipse cx="566.5" cy="367.0" rx="7.8" ry="9.6" fill="#fff" stroke="#0a0a0a" stroke-width="1.90" transform="rotate(-20 566.5 367.0)"/>
<ellipse cx="564.8" cy="368.0" rx="7.4" ry="9.2" fill="#fff" stroke="#0a0a0a" stroke-width="1.70" transform="rotate(-20 564.8 368.0)"/>
<ellipse cx="563.3" cy="368.7" rx="4.8" ry="6.0" fill="#fff" stroke="#0a0a0a" stroke-width="1.40" transform="rotate(-20 563.3 368.7)"/>
<ellipse cx="562.2" cy="369.4" rx="2.6" ry="3.2" fill="#fff" stroke="#0a0a0a" stroke-width="1.30" transform="rotate(-20 562.2 369.4)"/>
<ellipse cx="561.8" cy="369.7" rx="1.0" ry="1.2" fill="#fff" stroke="#0a0a0a" stroke-width="1.00" transform="rotate(-20 561.8 369.7)"/>
<polygon points="583.5,337.0 588.5,332.8 620.2,340.5 620.5,357.5 617.5,359.0 589.5,352.0 589.0,340.5" fill="none" stroke="#0a0a0a" stroke-width="2.20" stroke-linejoin="round" stroke-linecap="round"/>
<polyline points="589.0,340.5 616.5,345.8 620.2,340.5" fill="none" stroke="#0a0a0a" stroke-width="1.30" stroke-linejoin="round" stroke-linecap="round"/>
<polyline points="616.5,345.8 617.5,359.0" fill="none" stroke="#0a0a0a" stroke-width="1.30" stroke-linejoin="round" stroke-linecap="round"/>
<polyline points="594.5,342.2 594.7,348.5 596.2,350.0 597.7,348.5 597.5,342.8" fill="none" stroke="#0a0a0a" stroke-width="1.30" stroke-linejoin="round" stroke-linecap="round"/>
<polyline points="609.5,345.8 609.7,352.0 611.2,353.5 613.0,352.0 612.8,346.2" fill="none" stroke="#0a0a0a" stroke-width="1.30" stroke-linejoin="round" stroke-linecap="round"/>
<ellipse cx="603.3" cy="345.8" rx="1.5" ry="1.5" fill="#fff" stroke="#0a0a0a" stroke-width="1.20" transform="rotate(0 603.3 345.8)"/>
<polygon points="572.0,485.9 608.4,474.0 628.0,485.2 628.7,496.4 621.0,504.8 601.4,509.7 593.0,509.0 572.7,497.1" fill="none" stroke="#0a0a0a" stroke-width="2.20" stroke-linejoin="round" stroke-linecap="round"/>
<polyline points="572.0,485.9 593.7,497.8 628.0,485.2" fill="none" stroke="#0a0a0a" stroke-width="1.30" stroke-linejoin="round" stroke-linecap="round"/>
<polyline points="593.7,497.8 593.7,509.0" fill="none" stroke="#0a0a0a" stroke-width="1.30" stroke-linejoin="round" stroke-linecap="round"/>
<polyline points="583.2,486.6 612.6,477.5" fill="none" stroke="#0a0a0a" stroke-width="1.30" stroke-linejoin="round" stroke-linecap="round"/>
<polyline points="588.8,491.5 619.6,481.7" fill="none" stroke="#0a0a0a" stroke-width="1.30" stroke-linejoin="round" stroke-linecap="round"/>
<polyline points="595.8,496.8 626.6,486.6" fill="none" stroke="#0a0a0a" stroke-width="1.30" stroke-linejoin="round" stroke-linecap="round"/>
<ellipse cx="601.1" cy="484.9" rx="2.6" ry="1.7" fill="#fff" stroke="#0a0a0a" stroke-width="1.10" transform="rotate(0 601.1 484.9)"/>
<polyline points="595.8,502.0 605.6,496.4" fill="none" stroke="#0a0a0a" stroke-width="1.00" stroke-linejoin="round" stroke-linecap="round"/>
<polyline points="597.2,508.3 616.8,492.9" fill="none" stroke="#0a0a0a" stroke-width="1.00" stroke-linejoin="round" stroke-linecap="round"/>
<polyline points="606.3,508.3 625.2,490.8" fill="none" stroke="#0a0a0a" stroke-width="1.00" stroke-linejoin="round" stroke-linecap="round"/>
<polyline points="616.8,505.5 628.0,494.3" fill="none" stroke="#0a0a0a" stroke-width="1.00" stroke-linejoin="round" stroke-linecap="round"/>
<polyline points="595.8,500.6 604.2,509.0" fill="none" stroke="#0a0a0a" stroke-width="1.00" stroke-linejoin="round" stroke-linecap="round"/>
<polyline points="602.8,497.1 615.4,506.9" fill="none" stroke="#0a0a0a" stroke-width="1.00" stroke-linejoin="round" stroke-linecap="round"/>
<polyline points="611.9,493.6 623.1,502.7" fill="none" stroke="#0a0a0a" stroke-width="1.00" stroke-linejoin="round" stroke-linecap="round"/>
<polyline points="619.6,490.1 628.0,497.1" fill="none" stroke="#0a0a0a" stroke-width="1.00" stroke-linejoin="round" stroke-linecap="round"/>
<polyline points="598.5,525.0 598.5,538.5 605.0,538.5 605.0,525.0" fill="#fff" stroke="#0a0a0a" stroke-width="1.70" stroke-linejoin="round" stroke-linecap="round"/>
<ellipse cx="601.8" cy="524.7" rx="3.3" ry="1.8" fill="#fff" stroke="#0a0a0a" stroke-width="1.60" transform="rotate(0 601.8 524.7)"/>
<polyline points="599.8,543.0 599.8,565.0 601.8,568.5 604.0,565.0 604.0,543.0" fill="#fff" stroke="#0a0a0a" stroke-width="1.60" stroke-linejoin="round" stroke-linecap="round"/>
<path d="M598.5,536.5 A7.3,3.9 0 1 0 605.0,536.5" fill="none" stroke="#0a0a0a" stroke-width="2.1"/>
<path d="M597.2,539.0 A4.5,2.2 0 0 0 606.2,539.0" fill="none" stroke="#0a0a0a" stroke-width="1.3"/>
<polygon points="759.3,448.9 754.4,449.6 753.7,458.0 741.8,453.8 738.3,450.7 714.5,458.0 714.5,462.9 711.0,464.3 711.0,468.5 708.2,469.2 708.2,519.6 712.4,527.3 727.8,529.4 739.0,535.7 738.1,598.3 728.3,601.8 718.5,597.6 717.1,592.0 706.6,586.7 698.2,592.7 708.7,599.7 709.4,608.1 720.6,614.4 726.9,623.5 733.9,622.8 810.2,666.9 822.0,665.2 829.0,670.1 849.3,665.9 849.3,657.5 859.8,654.0 863.3,629.5 869.6,620.4 872.4,612.0 868.9,602.9 871.7,585.4 868.0,574.3 868.0,533.0 858.2,523.2 849.8,523.9 851.2,503.6" fill="none" stroke="#0a0a0a" stroke-width="2.20" stroke-linejoin="round" stroke-linecap="round"/>
<polyline points="713.1,469.9 814.8,526.7" fill="none" stroke="#0a0a0a" stroke-width="1.30" stroke-linejoin="round" stroke-linecap="round"/>
<polyline points="718.0,462.9 816.9,518.3" fill="none" stroke="#0a0a0a" stroke-width="1.30" stroke-linejoin="round" stroke-linecap="round"/>
<polyline points="720.1,464.3 741.1,454.5" fill="none" stroke="#0a0a0a" stroke-width="1.30" stroke-linejoin="round" stroke-linecap="round"/>
<polyline points="741.8,453.8 762.8,463.6" fill="none" stroke="#0a0a0a" stroke-width="1.30" stroke-linejoin="round" stroke-linecap="round"/>
<polygon points="753.0,471.3 766.3,465.0 767.0,460.1 777.5,465.0 778.2,470.6 762.8,476.9 755.8,475.5" fill="none" stroke="#0a0a0a" stroke-width="1.30" stroke-linejoin="round" stroke-linecap="round"/>
<polyline points="766.3,465.0 768.4,467.5 777.5,465.0" fill="none" stroke="#0a0a0a" stroke-width="1.30" stroke-linejoin="round" stroke-linecap="round"/>
<polyline points="781.7,473.4 821.8,496.6" fill="none" stroke="#0a0a0a" stroke-width="1.30" stroke-linejoin="round" stroke-linecap="round"/>
<polygon points="812.7,505.7 826.0,500.1 827.4,494.5 838.6,500.1 838.6,506.4 821.8,511.3 816.2,509.9" fill="none" stroke="#0a0a0a" stroke-width="1.30" stroke-linejoin="round" stroke-linecap="round"/>
<polyline points="826.0,500.1 828.8,502.9 838.6,500.1" fill="none" stroke="#0a0a0a" stroke-width="1.30" stroke-linejoin="round" stroke-linecap="round"/>
<polyline points="838.6,505.7 850.1,511.7" fill="none" stroke="#0a0a0a" stroke-width="1.30" stroke-linejoin="round" stroke-linecap="round"/>
<polyline points="745.8,603.9 742.3,599.0 742.5,514.0 748.8,510.5 805.0,542.8 810.6,552.6 810.9,641.7 803.2,641.7 745.8,603.9" fill="none" stroke="#0a0a0a" stroke-width="1.30" stroke-linejoin="round" stroke-linecap="round"/>
<polyline points="743.7,601.5 752.8,603.9 810.2,637.5" fill="none" stroke="#0a0a0a" stroke-width="1.30" stroke-linejoin="round" stroke-linecap="round"/>
<polyline points="814.8,526.7 821.1,519.7 827.4,518.3 833.7,528.8" fill="none" stroke="#0a0a0a" stroke-width="1.30" stroke-linejoin="round" stroke-linecap="round"/>
<polyline points="814.8,526.7 816.9,530.9 828.8,532.3 833.7,529.5 849.8,523.9" fill="none" stroke="#0a0a0a" stroke-width="2.20" stroke-linejoin="round" stroke-linecap="round"/>
<polyline points="815.5,531.6 815.7,665.2" fill="none" stroke="#0a0a0a" stroke-width="1.30" stroke-linejoin="round" stroke-linecap="round"/>
<polyline points="829.5,536.5 829.0,670.1" fill="none" stroke="#0a0a0a" stroke-width="1.30" stroke-linejoin="round" stroke-linecap="round"/>
<polyline points="854.7,524.6 854.9,655.4" fill="none" stroke="#0a0a0a" stroke-width="1.30" stroke-linejoin="round" stroke-linecap="round"/>
<polyline points="829.0,663.8 848.6,657.5" fill="none" stroke="#0a0a0a" stroke-width="1.30" stroke-linejoin="round" stroke-linecap="round"/>
<polyline points="708.7,597.6 717.1,593.4" fill="none" stroke="#0a0a0a" stroke-width="1.30" stroke-linejoin="round" stroke-linecap="round"/>
<polyline points="717.8,599.7 737.4,611.6 737.7,598.3" fill="none" stroke="#0a0a0a" stroke-width="1.30" stroke-linejoin="round" stroke-linecap="round"/>
<polygon points="757.5,397.5 761.2,393.7 769.5,390.7 777.7,396.0 782.2,393.7 782.2,391.5 786.0,389.7 797.2,395.2 796.5,408.7 803.2,410.2 804.0,403.5 878.2,449.2 876.7,453.7 882.7,458.2 891.7,472.5 892.5,498.0 884.2,494.2 883.5,480.0 877.5,471.0 873.0,470.2 870.0,474.0 801.7,435.0 795.0,432.0 792.0,435.0 781.5,435.7 775.5,431.2 775.5,427.5 780.0,425.2 786.0,424.5 782.2,417.7 772.5,412.5 773.2,402.0 766.5,402.0" fill="#3759b3" stroke="#0c1a4d" stroke-width="1.60" stroke-linejoin="round" stroke-linecap="round"/>
<polyline points="773.2,402.0 777.7,396.0" fill="none" stroke="#0c1a4d" stroke-width="1.10" stroke-linejoin="round" stroke-linecap="round"/>
<polyline points="782.2,393.7 782.2,403.5 791.2,406.8 791.7,422.2 795.0,423.7" fill="none" stroke="#0c1a4d" stroke-width="1.10" stroke-linejoin="round" stroke-linecap="round"/>
<polyline points="786.0,389.7 786.0,404.2" fill="none" stroke="#0c1a4d" stroke-width="1.10" stroke-linejoin="round" stroke-linecap="round"/>
<polyline points="796.5,408.7 791.7,407.2" fill="none" stroke="#0c1a4d" stroke-width="1.10" stroke-linejoin="round" stroke-linecap="round"/>
<polyline points="786.0,424.5 793.5,423.0 801.0,425.2 870.0,468.7 873.0,470.2" fill="none" stroke="#0c1a4d" stroke-width="1.10" stroke-linejoin="round" stroke-linecap="round"/>
<polyline points="801.0,425.2 807.0,421.5 814.5,424.5 819.0,433.5 871.5,466.5" fill="none" stroke="#0c1a4d" stroke-width="1.10" stroke-linejoin="round" stroke-linecap="round"/>
<polyline points="795.0,432.0 801.7,430.5" fill="none" stroke="#0c1a4d" stroke-width="1.10" stroke-linejoin="round" stroke-linecap="round"/>
<ellipse cx="767.2" cy="396.0" rx="1.8" ry="1.5" fill="#3759b3" stroke="#0c1a4d" stroke-width="1.00" transform="rotate(0 767.2 396.0)"/>
<ellipse cx="787.0" cy="409.8" rx="1.5" ry="2.2" fill="#3759b3" stroke="#0c1a4d" stroke-width="1.00" transform="rotate(0 787.0 409.8)"/>
<ellipse cx="785.7" cy="429.3" rx="5.0" ry="3.3" fill="#3759b3" stroke="#0c1a4d" stroke-width="1.10" transform="rotate(0 785.7 429.3)"/>
<ellipse cx="888.0" cy="490.2" rx="1.6" ry="1.9" fill="#3759b3" stroke="#0c1a4d" stroke-width="1.00" transform="rotate(0 888.0 490.2)"/>
<polygon points="542.2,734.2 542.8,747.2 560.4,743.0 561.0,754.7 587.0,746.6 597.4,746.6 607.2,751.1 614.6,752.4 615.0,749.8 654.3,736.8 654.0,723.2 650.7,720.9 633.8,725.8 630.9,723.2 631.2,709.8 628.9,708.2 607.8,714.7 600.0,720.9 585.7,721.2 580.2,720.6 579.2,721.9 550.6,729.7 550.3,731.9" fill="#fff" stroke="#0a0a0a" stroke-width="2.00" stroke-linejoin="round" stroke-linecap="round"/>
<polyline points="560.4,743.0 577.9,737.5 600.0,731.3 607.8,735.2 615.0,736.8 654.0,723.4" fill="none" stroke="#0a0a0a" stroke-width="1.50" stroke-linejoin="round" stroke-linecap="round"/>
<polyline points="577.9,727.7 577.9,737.5" fill="none" stroke="#0a0a0a" stroke-width="1.30" stroke-linejoin="round" stroke-linecap="round"/>
<polyline points="550.3,731.9 577.9,724.8" fill="none" stroke="#0a0a0a" stroke-width="1.30" stroke-linejoin="round" stroke-linecap="round"/>
<polyline points="579.9,725.1 584.4,725.8 590.3,729.7" fill="none" stroke="#0a0a0a" stroke-width="1.30" stroke-linejoin="round" stroke-linecap="round"/>
<polyline points="607.8,735.2 608.5,750.5" fill="none" stroke="#0a0a0a" stroke-width="1.60" stroke-linejoin="round" stroke-linecap="round"/>
<polyline points="615.0,736.8 615.0,749.8" fill="none" stroke="#0a0a0a" stroke-width="1.60" stroke-linejoin="round" stroke-linecap="round"/>
<polygon points="599.4,725.4 607.2,718.0 618.2,715.0 624.7,724.8 607.8,727.1" fill="none" stroke="#0a0a0a" stroke-width="1.50" stroke-linejoin="round" stroke-linecap="round"/>
<polyline points="618.2,715.0 628.9,711.5" fill="none" stroke="#0a0a0a" stroke-width="1.30" stroke-linejoin="round" stroke-linecap="round"/>
<polyline points="623.4,713.4 628.0,722.5 630.9,723.2" fill="none" stroke="#0a0a0a" stroke-width="1.80" stroke-linejoin="round" stroke-linecap="round"/>
<polyline points="585.7,721.2 590.9,727.7 600.0,731.3" fill="none" stroke="#0a0a0a" stroke-width="1.30" stroke-linejoin="round" stroke-linecap="round"/>
<polyline points="607.8,727.1 619.5,729.0 631.2,725.8" fill="none" stroke="#0a0a0a" stroke-width="1.30" stroke-linejoin="round" stroke-linecap="round"/>
<ellipse cx="554.8" cy="737.7" rx="1.8" ry="2.4" fill="#fff" stroke="#0a0a0a" stroke-width="1.30" transform="rotate(15 554.8 737.7)"/>
<ellipse cx="571.4" cy="732.5" rx="1.8" ry="2.4" fill="#fff" stroke="#0a0a0a" stroke-width="1.30" transform="rotate(15 571.4 732.5)"/>
<ellipse cx="571.1" cy="746.2" rx="1.8" ry="2.4" fill="#fff" stroke="#0a0a0a" stroke-width="1.30" transform="rotate(15 571.1 746.2)"/>
<ellipse cx="585.1" cy="741.4" rx="1.8" ry="2.4" fill="#fff" stroke="#0a0a0a" stroke-width="1.30" transform="rotate(15 585.1 741.4)"/>
<ellipse cx="648.5" cy="733.6" rx="1.8" ry="2.4" fill="#fff" stroke="#0a0a0a" stroke-width="1.30" transform="rotate(15 648.5 733.6)"/>
<polyline points="579.9,709.5 580.2,720.6" fill="none" stroke="#0a0a0a" stroke-width="2.00" stroke-linejoin="round" stroke-linecap="round"/>
<polyline points="588.3,707.6 588.6,719.3" fill="none" stroke="#0a0a0a" stroke-width="1.30" stroke-linejoin="round" stroke-linecap="round"/>
<polyline points="601.3,702.4 601.6,709.5 607.8,714.7" fill="none" stroke="#0a0a0a" stroke-width="2.00" stroke-linejoin="round" stroke-linecap="round"/>
<polygon points="561.5,687.6 562.5,702.3 574.8,698.8 574.8,681.7 567.5,682.7 567.1,684.8" fill="#fff" stroke="#0a0a0a" stroke-width="2.00" stroke-linejoin="round" stroke-linecap="round"/>
<polygon points="574.8,681.7 593.7,675.0 604.2,663.8 614.0,660.3 628.0,656.5 630.1,658.2 630.1,666.6 636.4,672.2 651.1,668.7 653.9,670.8 654.6,685.5 606.3,700.5 602.8,701.6 602.1,707.9 578.7,708.6 577.6,697.4 575.5,698.8" fill="#fff" stroke="#0a0a0a" stroke-width="2.00" stroke-linejoin="round" stroke-linecap="round"/>
<polygon points="577.6,697.4 586.0,694.3 602.8,689.0 602.1,701.6 578.7,708.6" fill="#fff" stroke="#0a0a0a" stroke-width="2.00" stroke-linejoin="round" stroke-linecap="round"/>
<polyline points="602.8,689.0 606.3,687.6 606.3,700.5" fill="none" stroke="#0a0a0a" stroke-width="1.60" stroke-linejoin="round" stroke-linecap="round"/>
<polyline points="606.3,687.6 653.9,671.1" fill="none" stroke="#0a0a0a" stroke-width="1.50" stroke-linejoin="round" stroke-linecap="round"/>
<polyline points="575.5,698.8 576.9,705.8 578.3,709.3" fill="none" stroke="#0a0a0a" stroke-width="2.40" stroke-linejoin="round" stroke-linecap="round"/>
<polyline points="576.2,683.7 586.0,694.3" fill="none" stroke="#0a0a0a" stroke-width="1.30" stroke-linejoin="round" stroke-linecap="round"/>
<polygon points="582.5,682.0 591.6,678.9 598.6,682.7 589.5,686.9" fill="none" stroke="#0a0a0a" stroke-width="1.30" stroke-linejoin="round" stroke-linecap="round"/>
<polyline points="593.7,675.0 602.8,684.8 606.3,687.6" fill="none" stroke="#0a0a0a" stroke-width="1.30" stroke-linejoin="round" stroke-linecap="round"/>
<polygon points="595.8,676.7 606.3,665.9 617.5,662.4 623.1,673.6" fill="none" stroke="#0a0a0a" stroke-width="1.50" stroke-linejoin="round" stroke-linecap="round"/>
<polyline points="617.5,662.4 628.0,658.9" fill="none" stroke="#0a0a0a" stroke-width="1.30" stroke-linejoin="round" stroke-linecap="round"/>
<polyline points="622.4,661.0 628.0,672.9 636.4,672.2" fill="none" stroke="#0a0a0a" stroke-width="1.80" stroke-linejoin="round" stroke-linecap="round"/>
<polyline points="598.6,682.0 626.6,676.7 636.4,672.5" fill="none" stroke="#0a0a0a" stroke-width="1.30" stroke-linejoin="round" stroke-linecap="round"/>
<polyline points="602.1,707.9 607.0,712.8 611.9,712.1" fill="none" stroke="#0a0a0a" stroke-width="2.00" stroke-linejoin="round" stroke-linecap="round"/>
<ellipse cx="569.2" cy="692.9" rx="1.8" ry="2.4" fill="#fff" stroke="#0a0a0a" stroke-width="1.30" transform="rotate(15 569.2 692.9)"/>
<ellipse cx="585.6" cy="700.5" rx="1.8" ry="2.4" fill="#fff" stroke="#0a0a0a" stroke-width="1.30" transform="rotate(15 585.6 700.5)"/>
<ellipse cx="613.7" cy="690.4" rx="1.8" ry="2.4" fill="#fff" stroke="#0a0a0a" stroke-width="1.30" transform="rotate(15 613.7 690.4)"/>
<ellipse cx="646.9" cy="679.9" rx="1.8" ry="2.4" fill="#fff" stroke="#0a0a0a" stroke-width="1.30" transform="rotate(15 646.9 679.9)"/>
</svg>
</body></html>
